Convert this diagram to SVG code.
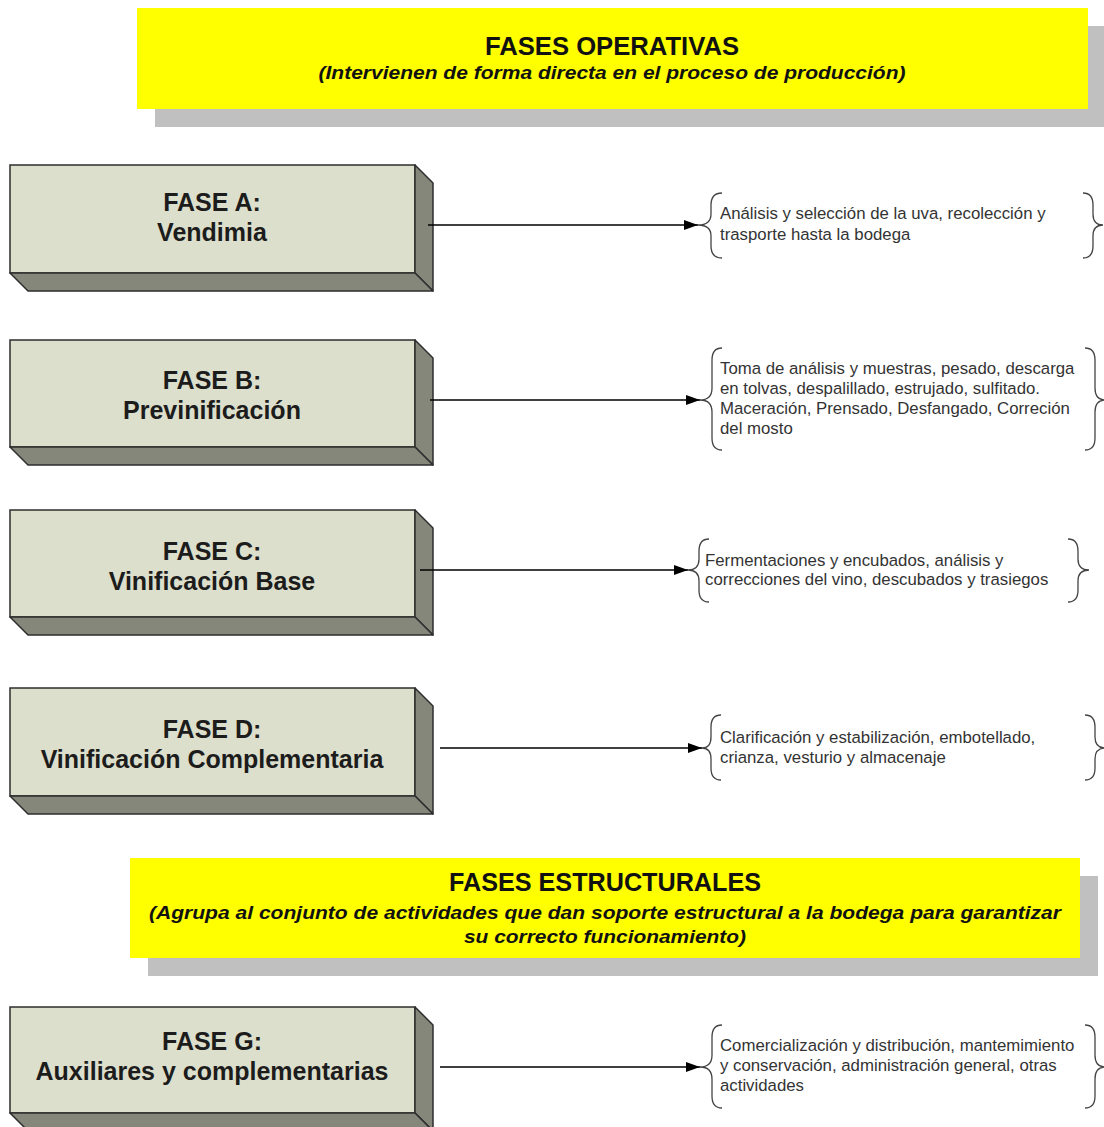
<svg xmlns="http://www.w3.org/2000/svg" width="1104" height="1127" viewBox="0 0 1104 1127">
<style>
.front{fill:#dcdfcb;stroke:#2e2e2e;stroke-width:1.5}
.side{fill:#85877a;stroke:#2e2e2e;stroke-width:1.5;stroke-linejoin:round}
.ttl{font-family:"Liberation Sans",Arial,sans-serif;font-weight:bold;font-size:25px;fill:#1c1c1c;text-anchor:middle}
.desc{font-family:"Liberation Sans",Arial,sans-serif;font-size:16.8px;fill:#333}
.btitle{font-family:"Liberation Sans",Arial,sans-serif;font-weight:bold;font-size:26px;fill:#111;text-anchor:middle}
.bsub{font-family:"Liberation Sans",Arial,sans-serif;font-weight:bold;font-style:italic;font-size:18px;fill:#111;text-anchor:middle}
.brace{fill:none;stroke:#444;stroke-width:1.3}
.conn{stroke:#000;stroke-width:1.3;fill:none}
</style>
<defs>
<marker id="ah" viewBox="0 0 14 10" refX="14" refY="5" markerWidth="14" markerHeight="10" markerUnits="userSpaceOnUse" orient="auto">
<path d="M0,0 L14,5 L0,10 Z" fill="#000"/>
</marker>
</defs>
<rect width="1104" height="1127" fill="#fff"/>

<g id="banner-operativas">
<rect x="155" y="26" width="949" height="101" fill="#c0c0c0"/>
<rect x="137" y="8" width="951" height="101" fill="#ffff00"/>
<text class="btitle" x="612" y="55" textLength="254" lengthAdjust="spacingAndGlyphs">FASES OPERATIVAS</text>
<text class="bsub" x="612" y="79" textLength="587" lengthAdjust="spacingAndGlyphs">(Intervienen de forma directa en el proceso de producción)</text>
</g>

<g id="faseA">
<rect class="front" x="10" y="165" width="405" height="108"/>
<polygon class="side" points="415,165 433,183 433,291 415,273"/>
<polygon class="side" points="10,273 415,273 433,291 28,291"/>
<text class="ttl" x="212" y="211">FASE A:</text>
<text class="ttl" x="212" y="241">Vendimia</text>
</g>

<g id="faseB">
<rect class="front" x="10" y="340" width="405" height="107"/>
<polygon class="side" points="415,340 433,358 433,465 415,447"/>
<polygon class="side" points="10,447 415,447 433,465 28,465"/>
<text class="ttl" x="212" y="389">FASE B:</text>
<text class="ttl" x="212" y="419">Previnificación</text>
</g>

<g id="faseC">
<rect class="front" x="10" y="510" width="405" height="107"/>
<polygon class="side" points="415,510 433,528 433,635 415,617"/>
<polygon class="side" points="10,617 415,617 433,635 28,635"/>
<text class="ttl" x="212" y="560">FASE C:</text>
<text class="ttl" x="212" y="590">Vinificación Base</text>
</g>

<g id="faseD">
<rect class="front" x="10" y="688" width="405" height="108"/>
<polygon class="side" points="415,688 433,706 433,814 415,796"/>
<polygon class="side" points="10,796 415,796 433,814 28,814"/>
<text class="ttl" x="212" y="738">FASE D:</text>
<text class="ttl" x="212" y="768">Vinificación Complementaria</text>
</g>

<g id="banner-estructurales">
<rect x="148" y="876" width="950" height="100" fill="#c0c0c0"/>
<rect x="130" y="858" width="950" height="100" fill="#ffff00"/>
<text class="btitle" x="605" y="891" textLength="312" lengthAdjust="spacingAndGlyphs">FASES ESTRUCTURALES</text>
<text class="bsub" x="605" y="919" textLength="912" lengthAdjust="spacingAndGlyphs">(Agrupa al conjunto de actividades que dan soporte estructural a la bodega para garantizar</text>
<text class="bsub" x="605" y="943" textLength="282" lengthAdjust="spacingAndGlyphs">su correcto funcionamiento)</text>
</g>

<g id="faseG">
<rect class="front" x="10" y="1007" width="405" height="106"/>
<polygon class="side" points="415,1007 433,1025 433,1131 415,1113"/>
<polygon class="side" points="10,1113 415,1113 433,1131 28,1131"/>
<text class="ttl" x="212" y="1050">FASE G:</text>
<text class="ttl" x="212" y="1080">Auxiliares y complementarias</text>
</g>

<g id="descA">
<path class="brace" d="M722,193 Q711,193 711,205 L711,214 Q711,225 698,225 Q711,225 711,236 L711,246 Q711,258 722,258"/>
<path class="brace" d="M1083,193 Q1093,193 1093,205 L1093,214 Q1093,225 1103,225 Q1093,225 1093,236 L1093,246 Q1093,258 1083,258"/>
<text class="desc" x="720" y="219">Análisis y selección de la uva, recolección y</text>
<text class="desc" x="720" y="240">trasporte hasta la bodega</text>
</g>

<g id="descB">
<path class="brace" d="M722,348 Q712,348 712,360 L712,388 Q712,400 700,400 Q712,400 712,412 L712,438 Q712,450 722,450"/>
<path class="brace" d="M1085,348 Q1095,348 1095,360 L1095,388 Q1095,400 1105,400 Q1095,400 1095,412 L1095,438 Q1095,450 1085,450"/>
<text class="desc" x="720" y="374">Toma de análisis y muestras, pesado, descarga</text>
<text class="desc" x="720" y="394">en tolvas, despalillado, estrujado, sulfitado.</text>
<text class="desc" x="720" y="414">Maceración, Prensado, Desfangado, Correción</text>
<text class="desc" x="720" y="434">del mosto</text>
</g>

<g id="descC">
<path class="brace" d="M709,539 Q699,539 699,551 L699,559 Q699,570 688,570 Q699,570 699,581 L699,590 Q699,602 709,602"/>
<path class="brace" d="M1068,539 Q1078,539 1078,551 L1078,559 Q1078,570 1089,570 Q1078,570 1078,581 L1078,590 Q1078,602 1068,602"/>
<text class="desc" x="705" y="566">Fermentaciones y encubados, análisis y</text>
<text class="desc" x="705" y="585">correcciones del vino, descubados y trasiegos</text>
</g>

<g id="descD">
<path class="brace" d="M721,715 Q711,715 711,727 L711,737 Q711,748 702,748 Q711,748 711,759 L711,768 Q711,780 721,780"/>
<path class="brace" d="M1085,715 Q1095,715 1095,727 L1095,737 Q1095,748 1105,748 Q1095,748 1095,759 L1095,768 Q1095,780 1085,780"/>
<text class="desc" x="720" y="743">Clarificación y estabilización, embotellado,</text>
<text class="desc" x="720" y="763">crianza, vesturio y almacenaje</text>
</g>

<g id="descG">
<path class="brace" d="M722,1025 Q712,1025 712,1037 L712,1055 Q712,1067 700,1067 Q712,1067 712,1079 L712,1096 Q712,1108 722,1108"/>
<path class="brace" d="M1085,1025 Q1095,1025 1095,1037 L1095,1055 Q1095,1067 1105,1067 Q1095,1067 1095,1079 L1095,1096 Q1095,1108 1085,1108"/>
<text class="desc" x="720" y="1051">Comercialización y distribución, mantemimiento</text>
<text class="desc" x="720" y="1071">y conservación, administración general, otras</text>
<text class="desc" x="720" y="1091">actividades</text>
</g>

<g id="connectors">
<line class="conn" x1="428" y1="225" x2="698" y2="225" marker-end="url(#ah)"/>
<line class="conn" x1="430" y1="400" x2="700" y2="400" marker-end="url(#ah)"/>
<line class="conn" x1="420" y1="570" x2="688" y2="570" marker-end="url(#ah)"/>
<line class="conn" x1="440" y1="748" x2="702" y2="748" marker-end="url(#ah)"/>
<line class="conn" x1="440" y1="1067" x2="700" y2="1067" marker-end="url(#ah)"/>
</g>
</svg>
